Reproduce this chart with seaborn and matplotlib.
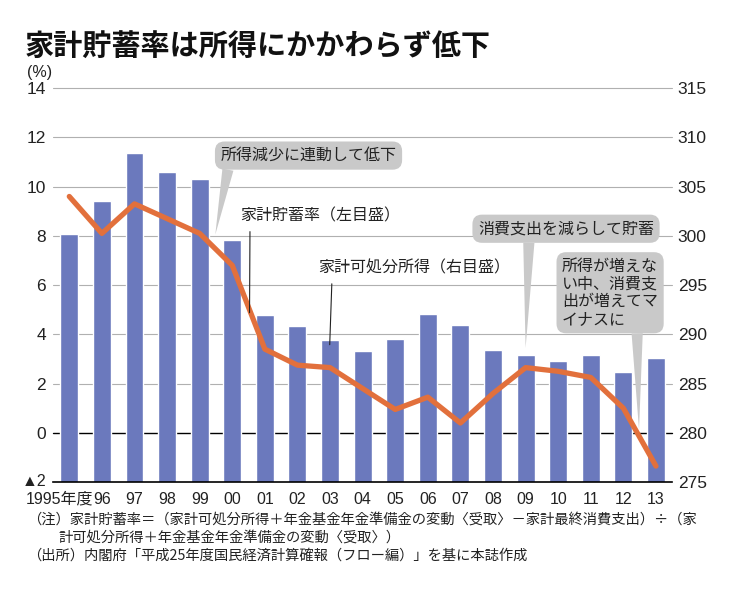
import numpy as np
import pandas as pd
import seaborn as sns
import matplotlib.pyplot as plt
import matplotlib.transforms as mtransforms

# Datos
years = ['1995年度', '96', '97', '98', '99', '00', '01', '02', '03', '04',
         '05', '06', '07', '08', '09', '10', '11', '12', '13']
income = [300.2, 303.5, 308.4, 306.5, 305.8, 299.6, 292.0, 290.8, 289.4, 288.3,
          289.5, 292.1, 291.0, 288.4, 287.9, 287.3, 287.9, 286.2, 287.6]
savings = [9.6, 8.1, 9.3, 8.7, 8.1, 6.8, 3.4, 2.75, 2.65, 1.8,
           0.95, 1.45, 0.4, 1.6, 2.65, 2.5, 2.25, 1.0, -1.35]
left_ticks = [-2, 0, 2, 4, 6, 8, 10, 12, 14]
left_labels = ['▲2', '0', '2', '4', '6', '8', '10', '12', '14']
right_ticks = [275, 280, 285, 290, 295, 300, 305, 310, 315]

bar_color = '#6b79bd'
line_color = '#e2703c'
box_color = '#c9c9c9'

sns.set_style('white')
plt.rcParams['font.family'] = ['Liberation Sans', 'Noto Sans CJK JP']
cjk = ['Noto Sans CJK JP', 'DejaVu Sans']

df = pd.DataFrame({'year': years, 'income': income, 'savings': savings,
                   'pos': np.arange(len(years))})

fig = plt.figure(figsize=(7.32, 5.93), dpi=100)
ax = fig.add_axes([0.0724, 0.187, 0.846, 0.6644])

# Barras: ingreso disponible (escala derecha)
sns.barplot(data=df, x='year', y='income', color=bar_color, saturation=1,
            width=0.55, ax=ax, zorder=2)
ax.set_ylim(275, 315)
ax.set_xlim(-0.5, 18.5)
ax.set_yticks(right_ticks)
ax.set_xlabel('')
ax.set_ylabel('')
for yv in right_ticks[1:]:
    ax.axhline(yv, color='black' if yv == 280 else '#b0b0b0',
               lw=1.0 if yv == 280 else 0.8, zorder=0, clip_on=False)
for s in ['top', 'left', 'right']:
    ax.spines[s].set_visible(False)
ax.spines['bottom'].set_color('black')
ax.spines['bottom'].set_linewidth(1.2)

# Linea: tasa de ahorro (escala izquierda)
ax2 = ax.twinx()
sns.lineplot(data=df, x='pos', y='savings', color=line_color, lw=3.8,
             ax=ax2, solid_capstyle='round', solid_joinstyle='round')
ax2.set_ylim(-2, 14)
ax2.set_xlim(-0.5, 18.5)
ax2.set_yticks(left_ticks)
ax2.set_yticklabels(left_labels)
ax2.yaxis.tick_left()
ax2.tick_params(axis='y', length=0, pad=5, labelsize=12.5, colors='#222222')
ax2.set_xlabel('')
ax2.set_ylabel('')
for s in ax2.spines.values():
    s.set_visible(False)
# el "▲2" va un poco mas arriba y mas chico
lab_neg = ax2.get_yticklabels()[0]
lab_neg.set_fontsize(11.5)
lab_neg.set_transform(lab_neg.get_transform() +
                      mtransforms.ScaledTranslation(0, 2 / 100, fig.dpi_scale_trans))

# ejes de las barras a la derecha (despues de twinx)
ax.yaxis.tick_right()
ax.tick_params(axis='y', length=0, pad=4, labelsize=12.5, colors='#222222')
ax.tick_params(axis='x', length=0, pad=7, labelsize=11.5, colors='#222222')
first = ax.get_xticklabels()[0]
first.set_transform(first.get_transform() +
                    mtransforms.ScaledTranslation(-10 / 100, 0, fig.dpi_scale_trans))

# Anotaciones
def bubble(text, tip, xytext, relpos, ha='center', linespacing=1.0):
    ax2.annotate(text, xy=tip, xytext=xytext, fontsize=11.5, family=cjk,
                 color='#222222', ha=ha, va='center', linespacing=linespacing,
                 bbox=dict(boxstyle='round,pad=0.35,rounding_size=0.6',
                           fc=box_color, ec='none'),
                 arrowprops=dict(arrowstyle='wedge,tail_width=0.7', fc=box_color,
                                 ec='none', relpos=relpos, shrinkA=0, shrinkB=0),
                 zorder=5)

bubble('所得減少に連動して低下', (4.48, 8.05), (7.34, 11.26), (0.05, 0.1))
bubble('消費支出を減らして貯蓄', (14.0, 3.45), (15.24, 8.29), (0.29, 0.1))
bubble('所得が増えな\nい中、消費支\n出が増えてマ\nイナスに', (17.48, 0.12),
       (15.12, 5.69), (0.78, 0.05), ha='left', linespacing=1.05)

def leader(text, tip, xytext, relx):
    ax2.annotate(text, xy=tip, xytext=xytext, fontsize=11.5, family=cjk,
                 color='#222222', ha='left', va='center',
                 arrowprops=dict(arrowstyle='-', color='#222222', lw=0.8,
                                 relpos=(relx, 0), shrinkA=3, shrinkB=0),
                 zorder=5)

leader('家計貯蓄率（左目盛）', (5.53, 4.88), (5.25, 8.82), 0.06)
leader('家計可処分所得（右目盛）', (7.99, 3.58), (7.65, 6.7), 0.07)

# Textos
fig.text(25 / 732, 1 - 46 / 593, '家計貯蓄率は所得にかかわらず低下', fontsize=21,
         fontweight='bold', family=cjk, va='center', color='#111111')
fig.text(27 / 732, 1 - 72 / 593, '(%)', fontsize=11.5, va='center', color='#222222')
fig.text(27 / 732, 1 - 520 / 593,
         '（注）家計貯蓄率＝（家計可処分所得＋年金基金年金準備金の変動〈受取〉－家計最終消費支出）÷（家',
         fontsize=10.3, family=cjk, va='center', color='#222222')
fig.text(58 / 732, 1 - 538 / 593, '計可処分所得＋年金基金年金準備金の変動〈受取〉）',
         fontsize=10.3, family=cjk, va='center', color='#222222')
fig.text(27 / 732, 1 - 556 / 593,
         '（出所）内閣府「平成25年度国民経済計算確報（フロー編）」を基に本誌作成',
         fontsize=10.3, family=cjk, va='center', color='#222222')

fig.savefig('out.png', dpi=100)
